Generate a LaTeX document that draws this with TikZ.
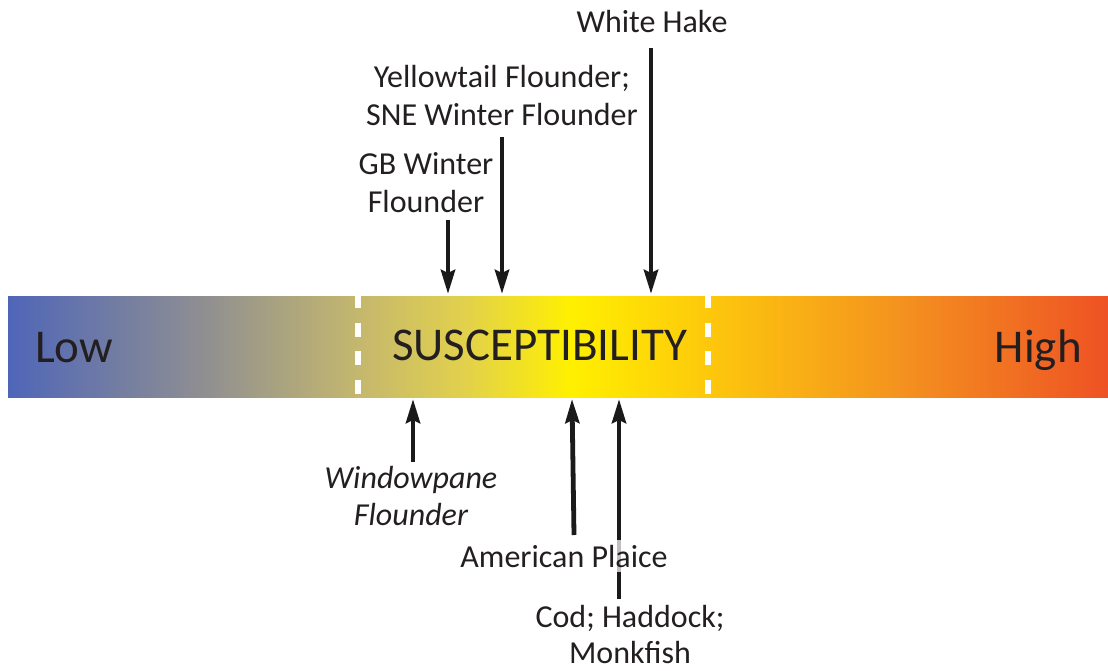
\documentclass[tikz,border=0pt]{standalone}
\usepackage{fontspec}
\setmainfont{Carlito}
\usetikzlibrary{arrows.meta}
\definecolor{c0}{HTML}{4F66B8}
\definecolor{c1}{HTML}{8E8E92}
\definecolor{c2}{HTML}{C4B76E}
\definecolor{c3}{HTML}{E2D14C}
\definecolor{c4}{HTML}{FFF000}
\definecolor{c5}{HTML}{FDC80C}
\definecolor{c6}{HTML}{F4921F}
\definecolor{c7}{HTML}{EE5224}
\definecolor{txt}{HTML}{231F20}
\definecolor{arrowc}{HTML}{1A1A1A}
\tikzset{
  lbl/.style={font=\fontsize{32}{38}\selectfont, text=txt, align=center, anchor=base, inner sep=0pt},
  barlbl/.style={font=\fontsize{47}{50}\selectfont, text=txt, inner sep=0pt},
  arr/.style={draw=arrowc, line width=4.8pt, -{Stealth[length=24pt,width=14pt,inset=3pt]}},
  sep/.style={draw=white, line width=6pt, dash pattern=on 14pt off 14.5pt, dash phase=2pt},
}
\begin{document}
\begin{tikzpicture}[x=1pt,y=-1pt]
\useasboundingbox (0,0) rectangle (1108,671);
% gradient bar
\shade[left color=c0, right color=c1] (8,296) rectangle (200.5,397);
\shade[left color=c1, right color=c2] (200,296) rectangle (357.5,397);
\shade[left color=c2, right color=c3] (357,296) rectangle (465.5,397);
\shade[left color=c3, right color=c4] (465,296) rectangle (570.5,397);
\shade[left color=c4, right color=c5] (570,296) rectangle (708.5,397);
\shade[left color=c5, right color=c6] (708,296) rectangle (900.5,397);
\shade[left color=c6, right color=c7] (900,296) rectangle (1108,397);
\draw[sep] (357.5,296) -- (357.5,397);
\draw[sep] (708,296) -- (708,397);
% bar labels
\node[barlbl, anchor=base west] (low) at (35,362) {Low};
\node[barlbl, anchor=base west] (sus) at (392,360) {SUSCEPTIBILITY};
\node[barlbl, anchor=base east] (high) at (1082,362) {High};
% arrow end points
\coordinate (whTail) at (651,48);   \coordinate (whTip) at (651,294);
\coordinate (ytTail) at (502,137);  \coordinate (ytTip) at (502,294);
\coordinate (gbTail) at (448,220);  \coordinate (gbTip) at (448,294);
\coordinate (wpTail) at (413,462);  \coordinate (wpTip) at (413,399);
\coordinate (apTail) at (574,535);  \coordinate (apTip) at (572,399);
\coordinate (cdTail) at (619,599);  \coordinate (cdTip) at (619,399);
% arrows
\draw[arr] (whTail) -- (whTip);
\draw[arr] (ytTail) -- (ytTip);
\draw[arr] (gbTail) -- (gbTip);
\draw[arr] (wpTail) -- (wpTip);
\draw[arr] (apTail) -- (apTip);
\draw[arr] (cdTail) -- (cdTip);
% labels (base = baseline of last line)
\node[lbl] (wh) at (652,33) {White Hake};
\node[lbl] (yt) at (502,126) {Yellowtail Flounder;\\SNE Winter Flounder};
\node[lbl] (gb) at (426,212) {GB Winter\\Flounder};
\node[lbl, font=\fontsize{32}{37}\selectfont\itshape] (wp) at (411,525) {Windowpane\\Flounder};
\node[lbl, fill=white, fill opacity=0.72, text opacity=1, inner ysep=5pt] (ap) at (564,567) {American Plaice};
\node[lbl, font=\fontsize{32}{36}\selectfont] (cd) at (630,663) {Cod; Haddock;\\Monkfish};
\end{tikzpicture}
\end{document}
